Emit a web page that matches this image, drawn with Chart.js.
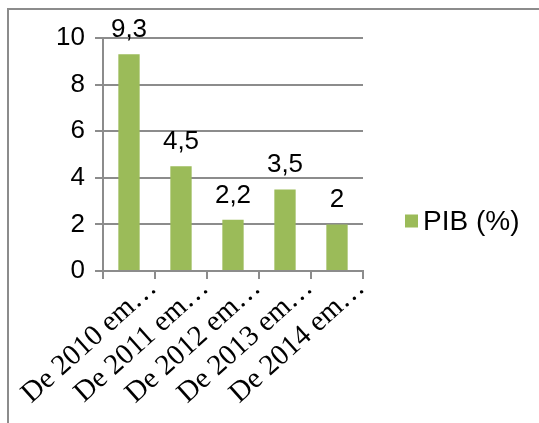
<!DOCTYPE html>
<html>
<head>
<meta charset="utf-8">
<script src="https://cdn.jsdelivr.net/npm/chart.js@4.4.1/dist/chart.umd.min.js"></script>
<style>
  html, body { margin: 0; padding: 0; background: #fff; overflow: hidden; }
  #wrap { position: relative; width: 539px; height: 423px; overflow: hidden; }
  #frame {
    position: absolute; left: 7px; top: 8px; width: 640px; height: 520px;
    border-left: 2px solid #8c8c8c; border-top: 2px solid #8c8c8c;
  }
  #c { position: absolute; left: 0; top: 0; }
</style>
</head>
<body>
<div id="wrap">
  <div id="frame"></div>
  <canvas id="c" width="539" height="423"></canvas>
</div>
<script>
// Categories, series and axis ticks
const categories = ["De 2010 em…", "De 2011 em…", "De 2012 em…", "De 2013 em…", "De 2014 em…"];
const pibValues = [9.3, 4.5, 2.2, 3.5, 2];
const seriesName = "PIB (%)";
const yTickValues = [0, 2, 4, 6, 8, 10];

const GREEN = '#9bbb59';
const GRID = '#8c8c8c';
const SANS = '"Liberation Sans", Arial, sans-serif';
const SERIF = '"Liberation Serif", "Times New Roman", serif';

const fmt = v => String(v).replace('.', ',');

// Value labels above each bar
const valueLabels = {
  id: 'valueLabels',
  afterDatasetsDraw(chart) {
    const ctx = chart.ctx;
    const ds = chart.data.datasets[0];
    const meta = chart.getDatasetMeta(0);
    ctx.save();
    ctx.font = '26px ' + SANS;
    ctx.fillStyle = '#000';
    ctx.textAlign = 'center';
    ctx.textBaseline = 'alphabetic';
    meta.data.forEach((bar, i) => {
      ctx.fillText(fmt(ds.data[i]), bar.x, bar.y - 17);
    });
    ctx.restore();
  }
};

// Legend to the right of the plot
const sideLegend = {
  id: 'sideLegend',
  afterDraw(chart) {
    const ctx = chart.ctx;
    const area = chart.chartArea;
    const ds = chart.data.datasets[0];
    const x = area.right + 42;
    const yc = area.bottom - 50;
    ctx.save();
    ctx.fillStyle = ds.backgroundColor;
    ctx.fillRect(x, yc - 6.5, 13, 13);
    ctx.font = '28px ' + SANS;
    ctx.fillStyle = '#000';
    ctx.textAlign = 'left';
    ctx.textBaseline = 'middle';
    ctx.fillText(ds.label, x + 18, yc + 1);
    ctx.restore();
  }
};

new Chart(document.getElementById('c'), {
  type: 'bar',
  data: {
    labels: categories,
    datasets: [{
      label: seriesName,
      data: pibValues,
      backgroundColor: GREEN,
      borderWidth: 0,
      categoryPercentage: 1,
      barPercentage: 0.41
    }]
  },
  options: {
    responsive: false,
    animation: false,
    devicePixelRatio: 1,
    layout: { padding: { top: 38, left: 0, right: 176, bottom: 0 } },
    plugins: {
      legend: { display: false },
      tooltip: { enabled: false }
    },
    scales: {
      x: {
        grid: {
          offset: true,
          drawOnChartArea: false,
          drawTicks: true,
          tickLength: 8,
          color: GRID,
          lineWidth: 2
        },
        border: { display: true, color: GRID, width: 2 },
        ticks: {
          autoSkip: false,
          minRotation: 42,
          maxRotation: 42,
          padding: -8,
          labelOffset: 24,
          color: '#000',
          font: { family: SERIF, size: 29 }
        },
        afterFit(s) { s.height = 152; s.paddingLeft = 0; s.paddingRight = 0; }
      },
      y: {
        min: 0,
        max: 10,
        afterBuildTicks(s) { s.ticks = yTickValues.map(v => ({ value: v })); },
        grid: { color: GRID, lineWidth: 2, tickLength: 8 },
        border: { display: true, color: GRID, width: 2 },
        ticks: {
          padding: 10,
          color: '#000',
          font: { family: SANS, size: 26 }
        },
        afterFit(s) { s.width = 103; s.paddingTop = 0; s.paddingBottom = 0; }
      }
    }
  },
  plugins: [valueLabels, sideLegend]
});
</script>
</body>
</html>
